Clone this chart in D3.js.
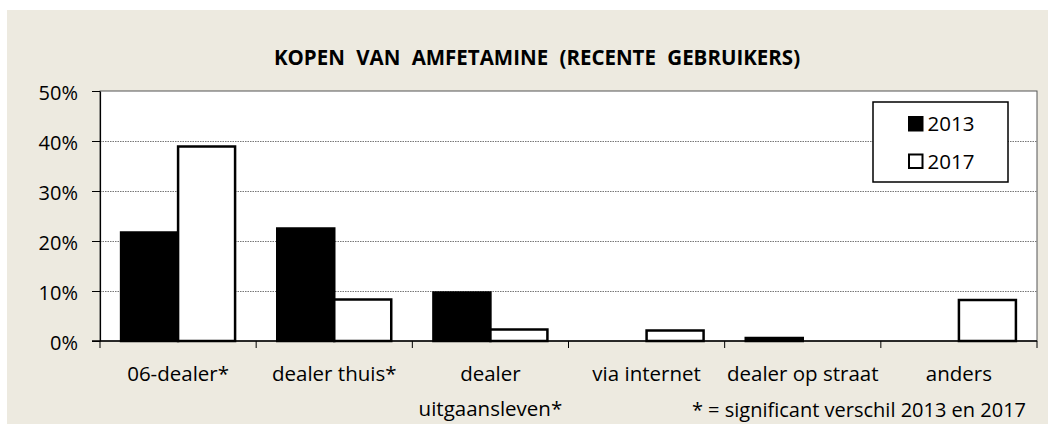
<!DOCTYPE html>
<html>
<head>
<meta charset="utf-8">
<script src="https://cdn.jsdelivr.net/npm/d3@7"></script>
<style>
  html, body { margin: 0; padding: 0; background: #ffffff; }
  svg { display: block; }
  text { font-family: "Open Sans", "Noto Sans", sans-serif; fill: #000; }
</style>
</head>
<body>
<svg id="chart" width="1048" height="425"></svg>
<script>
// Categories, series and tick labels
const categories = ["06-dealer*", "dealer thuis*", "dealer\nuitgaansleven*", "via internet", "dealer op straat", "anders"];
const years = ["2013", "2017"];
const values2013 = [21.7, 22.5, 9.7, 0, 0.6, 0];
const values2017 = [38.9, 8.3, 2.3, 2.1, 0, 8.2];
const yTicks = [0, 10, 20, 30, 40, 50];
const title = "KOPEN VAN AMFETAMINE (RECENTE GEBRUIKERS)";
const footnote = "* = significant verschil 2013 en 2017";

const seriesValues = { "2013": values2013, "2017": values2017 };
const seriesFill = { "2013": "#000000", "2017": "#ffffff" };

const svg = d3.select("#chart");
const W = 1048, H = 425;

// panel background
svg.append("rect").attr("x", 7).attr("y", 10).attr("width", W - 7).attr("height", H - 11)
  .attr("fill", "#edeae0");

const plot = { left: 100, right: 1037, top: 91, bottom: 341 };

const x0 = d3.scaleBand().domain(categories).range([plot.left, plot.right]).paddingInner(0).paddingOuter(0);
const x1 = d3.scaleBand().domain(years).range([0, x0.bandwidth()]).paddingInner(0).paddingOuter(0.37);
const y = d3.scaleLinear().domain([0, 50]).range([plot.bottom, plot.top]);

// plot area
svg.append("rect").attr("x", plot.left).attr("y", plot.top)
  .attr("width", plot.right - plot.left).attr("height", plot.bottom - plot.top)
  .attr("fill", "#ffffff").attr("stroke", "#555").attr("stroke-width", 1);

// dotted gridlines
svg.append("g").selectAll("line").data(yTicks.filter(t => t > 0 && t < 50)).join("line")
  .attr("x1", plot.left).attr("x2", plot.right)
  .attr("y1", d => y(d) + 0.5).attr("y2", d => y(d) + 0.5)
  .attr("stroke", "#777").attr("stroke-width", 1).attr("stroke-dasharray", "1.5,1");

// bars
const rows = categories.map((c, i) => ({ cat: c, vals: years.map(yr => ({ year: yr, v: seriesValues[yr][i] })) }));
const groups = svg.append("g").selectAll("g").data(rows).join("g")
  .attr("transform", d => `translate(${x0(d.cat)},0)`);
groups.selectAll("rect").data(d => d.vals.filter(e => e.v > 0)).join("rect")
  .attr("x", d => x1(d.year))
  .attr("width", x1.bandwidth())
  .attr("y", d => y(d.v))
  .attr("height", d => y(0) - y(d.v))
  .attr("fill", d => seriesFill[d.year])
  .attr("stroke", "#000").attr("stroke-width", 2.5).attr("stroke-linejoin", "miter");

// y axis
const yAxis = d3.axisLeft(y).tickValues(yTicks).tickFormat(d => d + "%").tickSizeInner(8).tickSizeOuter(0).tickPadding(14);
const yg = svg.append("g").attr("transform", `translate(${plot.left},0)`).call(yAxis);
yg.select(".domain").attr("stroke", "#000").attr("stroke-width", 1.2);
yg.selectAll(".tick line").attr("stroke", "#000");
yg.selectAll(".tick text").style("font-size", "20px").style("font-family", "'Open Sans', sans-serif")
  .attr("fill", "#000").attr("dy", "0.4em");

// x axis line and category separators
const xg = svg.append("g");
xg.append("line").attr("x1", plot.left - 8).attr("x2", plot.right).attr("y1", plot.bottom).attr("y2", plot.bottom)
  .attr("stroke", "#000").attr("stroke-width", 1.5);
const bounds = categories.map(c => x0(c)).concat([plot.right]);
xg.selectAll("line.sep").data(bounds).join("line").attr("class", "sep")
  .attr("x1", d => d).attr("x2", d => d).attr("y1", plot.bottom).attr("y2", plot.bottom + 7)
  .attr("stroke", "#000").attr("stroke-width", 1);

// category labels
svg.append("g").selectAll("text").data(categories).join("text")
  .attr("x", d => x0(d) + x0.bandwidth() / 2)
  .attr("y", 381)
  .attr("text-anchor", "middle")
  .style("font-size", "20.5px")
  .each(function(d) {
    const lines = d.split("\n");
    d3.select(this).selectAll("tspan").data(lines).join("tspan")
      .attr("x", x0(d) + x0.bandwidth() / 2)
      .attr("dy", (l, i) => i === 0 ? 0 : 35)
      .text(l => l);
  });

// title
svg.append("text").attr("x", 537).attr("y", 65).attr("text-anchor", "middle")
  .style("font-size", "20.5px").style("font-weight", "bold").style("font-family", "'Open Sans', sans-serif")
  .style("word-spacing", "6px")
  .text(title);

// legend
const lg = svg.append("g");
lg.append("rect").attr("x", 873).attr("y", 102).attr("width", 135).attr("height", 80)
  .attr("fill", "#ffffff").attr("stroke", "#000").attr("stroke-width", 1.5);
const legendRows = lg.selectAll("g").data(years).join("g")
  .attr("transform", (d, i) => `translate(909,${131 + i * 37.5})`);
legendRows.append("rect").attr("x", 0).attr("y", -14).attr("width", 13.5).attr("height", 13.5)
  .attr("fill", d => seriesFill[d]).attr("stroke", "#000").attr("stroke-width", 2);
legendRows.append("text").attr("x", 18.5).attr("y", 0).style("font-size", "20.5px").text(d => d);

// footnote
svg.append("text").attr("x", 1026).attr("y", 417).attr("text-anchor", "end")
  .style("font-size", "20px").text(footnote);
</script>
</body>
</html>
